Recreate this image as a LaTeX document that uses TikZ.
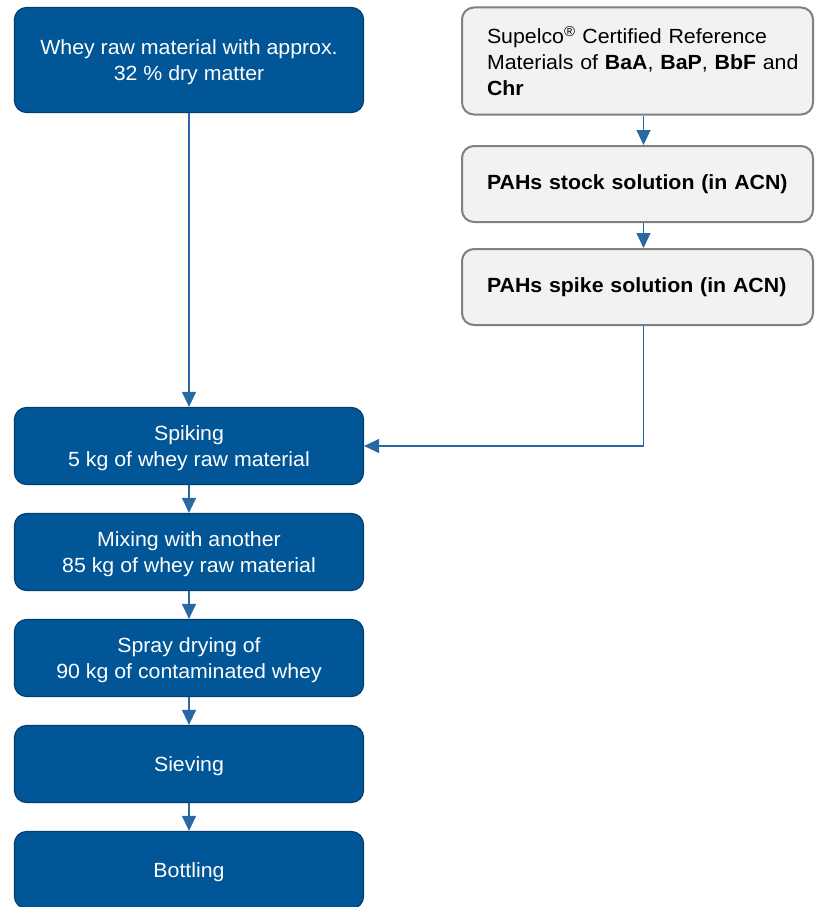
\documentclass[tikz,border=0pt]{standalone}
\usepackage{fontspec}
\setmainfont{Liberation Sans}[FakeStretch=1.04]
\usepackage{xcolor}
\usepackage{tikz}
\usetikzlibrary{positioning,arrows.meta}
\definecolor{cProc}{RGB}{0,86,150}
\definecolor{cProcDark}{RGB}{0,62,112}
\definecolor{cSrc}{RGB}{242,242,242}
\definecolor{cSrcLine}{RGB}{128,128,128}
\definecolor{cFlow}{RGB}{40,105,165}

\begin{document}
\begin{tikzpicture}[x=1pt,y=1pt,
    every node/.style={font=\fontsize{20.5}{26}\selectfont},
    proc/.style={draw=cProcDark,line width=1.2pt,rounded corners=12pt,fill=cProc,
      text=white,align=center,minimum width=349pt,minimum height=77pt,inner sep=0pt,text depth=0pt},
    src/.style={draw=cSrcLine,line width=2pt,rounded corners=12pt,fill=cSrc,
      text=black,align=left,text width=301pt,inner xsep=25pt,inner ysep=0pt,minimum height=76pt},
    flow/.style={draw=cFlow,line width=1.2pt,-{Triangle[length=15pt,width=14pt]},color=cFlow}]
  \useasboundingbox (0,0) rectangle (814,-907);
  % process column
  \node[proc,minimum height=105pt] (raw) at (189,-60) {Whey raw material with approx.\\32 \% dry matter};
  \node[proc] (spiking) at (189,-446) {Spiking\\5 kg of whey raw material};
  \node[proc] (mixing) at (189,-552) {Mixing with another\\85 kg of whey raw material};
  \node[proc] (spray) at (189,-658) {Spray drying of\\90 kg of contaminated whey};
  \node[proc] (sieving) at (189,-764) {Sieving};
  \node[proc] (bottling) at (189,-870) {Bottling};
  % standards column
  \node[src,minimum height=107pt] (crm) at (637.5,-61) {\mbox{Supelco\textsuperscript{®} Certified Reference}\\\mbox{Materials of \textbf{BaA}, \textbf{BaP}, \textbf{BbF} and}\\\textbf{Chr}};
  \node[src] (stock) at (637.5,-184) {\mbox{\textbf{PAHs stock solution (in ACN)}}};
  \node[src] (spike) at (637.5,-287) {\mbox{\textbf{PAHs spike solution (in ACN)}}};
  % connectors
  \draw[flow] (raw) -- (spiking);
  \draw[flow] ([xshift=6pt]crm.south) -- ([xshift=6pt]stock.north);
  \draw[flow] ([xshift=6pt]stock.south) -- ([xshift=6pt]spike.north);
  \draw[flow] ([xshift=6pt]spike.south) |- (spiking.east);
  \draw[flow] (spiking) -- (mixing);
  \draw[flow] (mixing) -- (spray);
  \draw[flow] (spray) -- (sieving);
  \draw[flow] (sieving) -- (bottling);
\end{tikzpicture}
\end{document}
